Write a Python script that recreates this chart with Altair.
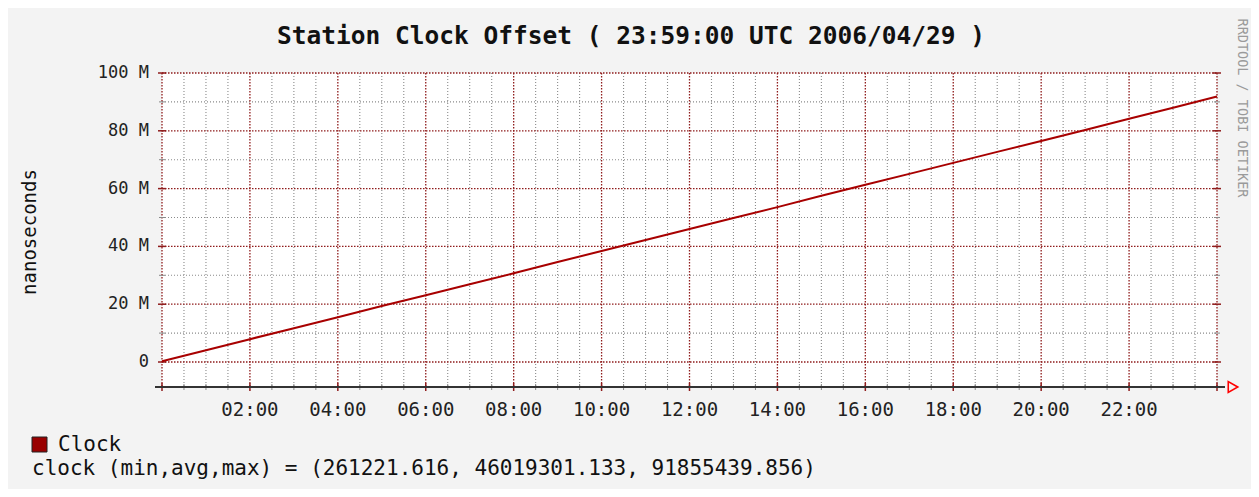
import altair as alt
import pandas as pd

# ---- data ----
hours = list(range(25))
clock_ns = [261221.616, 4.05e6, 7.9e6, 11.7e6, 15.5e6, 19.4e6, 23.1e6, 26.9e6,
            30.7e6, 34.6e6, 38.4e6, 42.2e6, 46.0e6, 49.8e6, 53.6e6, 57.5e6,
            61.3e6, 65.1e6, 68.9e6, 72.7e6, 76.5e6, 80.3e6, 84.2e6, 88.0e6,
            91855439.856]
major_x = [0, 2, 4, 6, 8, 10, 12, 14, 16, 18, 20, 22, 24]
minor_x = [h / 2 for h in range(49) if h % 4 != 0]
major_y = [0, 20e6, 40e6, 60e6, 80e6, 100e6]
minor_y = [10e6, 30e6, 50e6, 70e6, 90e6]
x_tick_values = [2, 4, 6, 8, 10, 12, 14, 16, 18, 20, 22]
x_tick_labels = ["02:00", "04:00", "06:00", "08:00", "10:00", "12:00",
                 "14:00", "16:00", "18:00", "20:00", "22:00"]
y_tick_labels = ["0", "20 M", "40 M", "60 M", "80 M", "100 M"]
title_text = ["Station Clock Offset ( 23:59:00 UTC 2006/04/29 )"]
y_title = ["nanoseconds"]
watermark = ["RRDTOOL / TOBI OETIKER"]
legend_name = ["Clock"]
stats_line = ["clock (min,avg,max) = (261221.616, 46019301.133, 91855439.856)"]

W, H = 1055, 314
MONO = "DejaVu Sans Mono"
MAJOR = "#8f1c1c"
MINOR = "#8a8a8a"

xs = alt.Scale(domain=[0, 24], nice=False, zero=False)
ys = alt.Scale(domain=[-8.65e6, 100e6], nice=False, zero=False)

line_df = pd.DataFrame({"h": hours, "ns": clock_ns})
mx = pd.DataFrame({"x": major_x})
nx = pd.DataFrame({"x": minor_x})
my = pd.DataFrame({"y": major_y})
ny = pd.DataFrame({"y": minor_y})
xl = pd.DataFrame({"x": x_tick_values, "t": x_tick_labels})
yl = pd.DataFrame({"y": major_y, "t": y_tick_labels})

def X(f):
    return alt.X(f"{f}:Q", scale=xs, axis=None)

def Y(f):
    return alt.Y(f"{f}:Q", scale=ys, axis=None)

minor_v = alt.Chart(nx).mark_rule(color=MINOR, strokeDash=[1, 2], strokeWidth=1.1).encode(x=X("x"))
minor_h = alt.Chart(ny).mark_rule(color=MINOR, strokeDash=[1, 2], strokeWidth=1.1).encode(
    y=Y("y"), x=alt.value(0), x2=alt.value(W))
major_v = alt.Chart(mx).mark_rule(color=MAJOR, strokeDash=[1.5, 1.5], strokeWidth=1.3).encode(x=X("x"))
major_h = alt.Chart(my).mark_rule(color=MAJOR, strokeDash=[1.5, 1.5], strokeWidth=1.3).encode(
    y=Y("y"), x=alt.value(0), x2=alt.value(W))

# small tick marks
tick_minor_b = alt.Chart(nx).mark_rule(color="#888888", strokeWidth=1).encode(
    x=X("x"), y=alt.value(H - 3), y2=alt.value(H + 3))
tick_major_b = alt.Chart(mx).mark_rule(color=MAJOR, strokeWidth=1.5).encode(
    x=X("x"), y=alt.value(H - 4), y2=alt.value(H + 4))
tick_major_l = alt.Chart(my).mark_rule(color=MAJOR, strokeWidth=1.5).encode(
    y=Y("y"), x=alt.value(-4), x2=alt.value(4))
tick_major_r = alt.Chart(my).mark_rule(color=MAJOR, strokeWidth=1.5).encode(
    y=Y("y"), x=alt.value(W - 4), x2=alt.value(W + 4))
tick_minor_l = alt.Chart(ny).mark_rule(color="#888888", strokeWidth=1).encode(
    y=Y("y"), x=alt.value(-3), x2=alt.value(3))
tick_minor_r = alt.Chart(ny).mark_rule(color="#888888", strokeWidth=1).encode(
    y=Y("y"), x=alt.value(W - 3), x2=alt.value(W + 3))

axis_line = alt.Chart(pd.DataFrame({"a": [0]})).mark_rule(color="#333333", strokeWidth=2).encode(
    x=alt.value(-7), x2=alt.value(W + 8), y=alt.value(H))
arrow = alt.Chart(pd.DataFrame({"a": [0]})).mark_point(
    shape="triangle-right", filled=False, color="#ff0000", size=120, strokeWidth=1.6, opacity=1
).encode(x=alt.value(W + 16), y=alt.value(H))

line = alt.Chart(line_df).mark_line(color="#a80000", strokeWidth=2).encode(
    x=X("h"), y=Y("ns"))

x_labels = alt.Chart(xl).mark_text(
    font=MONO, fontSize=19, color="#222222", align="center", baseline="middle"
).encode(x=X("x"), y=alt.value(H + 23), text="t:N")

y_labels = alt.Chart(yl).mark_text(
    font=MONO, fontSize=17, color="#222222", align="right", baseline="middle"
).encode(y=Y("y"), x=alt.value(-13), text="t:N")

title = alt.Chart(pd.DataFrame({"t": title_text})).mark_text(
    font=MONO, fontSize=24.5, fontWeight="bold", color="#111111", align="center", baseline="middle"
).encode(text="t:N", x=alt.value(469), y=alt.value(-36))

ytitle = alt.Chart(pd.DataFrame({"t": y_title})).mark_text(
    font=MONO, fontSize=19, color="#111111", align="center", baseline="middle", angle=270
).encode(text="t:N", x=alt.value(-132), y=alt.value(159))

wm = alt.Chart(pd.DataFrame({"t": watermark})).mark_text(
    font=MONO, fontSize=13.5, color="#9a9a9a", align="center", baseline="middle", angle=90
).encode(text="t:N", x=alt.value(1080), y=alt.value(35))

leg_box = alt.Chart(pd.DataFrame({"t": legend_name})).mark_rect(
    fill="#990000", stroke="#222222", strokeWidth=1
).encode(x=alt.value(-130), x2=alt.value(-115), y=alt.value(364), y2=alt.value(379))

leg_text = alt.Chart(pd.DataFrame({"t": legend_name})).mark_text(
    font=MONO, fontSize=21, color="#111111", align="left", baseline="middle"
).encode(text="t:N", x=alt.value(-104), y=alt.value(372))

stats = alt.Chart(pd.DataFrame({"t": stats_line})).mark_text(
    font=MONO, fontSize=21, color="#111111", align="left", baseline="middle"
).encode(text="t:N", x=alt.value(-130), y=alt.value(396))

chart = alt.layer(
    minor_v, minor_h, major_v, major_h,
    tick_minor_b, tick_minor_l, tick_minor_r,
    tick_major_b, tick_major_l, tick_major_r,
    axis_line, arrow, line, x_labels, y_labels,
    title, ytitle, wm, leg_box, leg_text, stats,
).properties(
    width=W, height=H,
    autosize=alt.AutoSizeParams(type="none"),
    padding={"left": 154, "top": 65, "right": 34, "bottom": 102},
    background="#f3f3f3",
).configure_view(fill="#ffffff", stroke=None)

chart.save("out.html", embed_options={"renderer": "svg", "actions": False})
